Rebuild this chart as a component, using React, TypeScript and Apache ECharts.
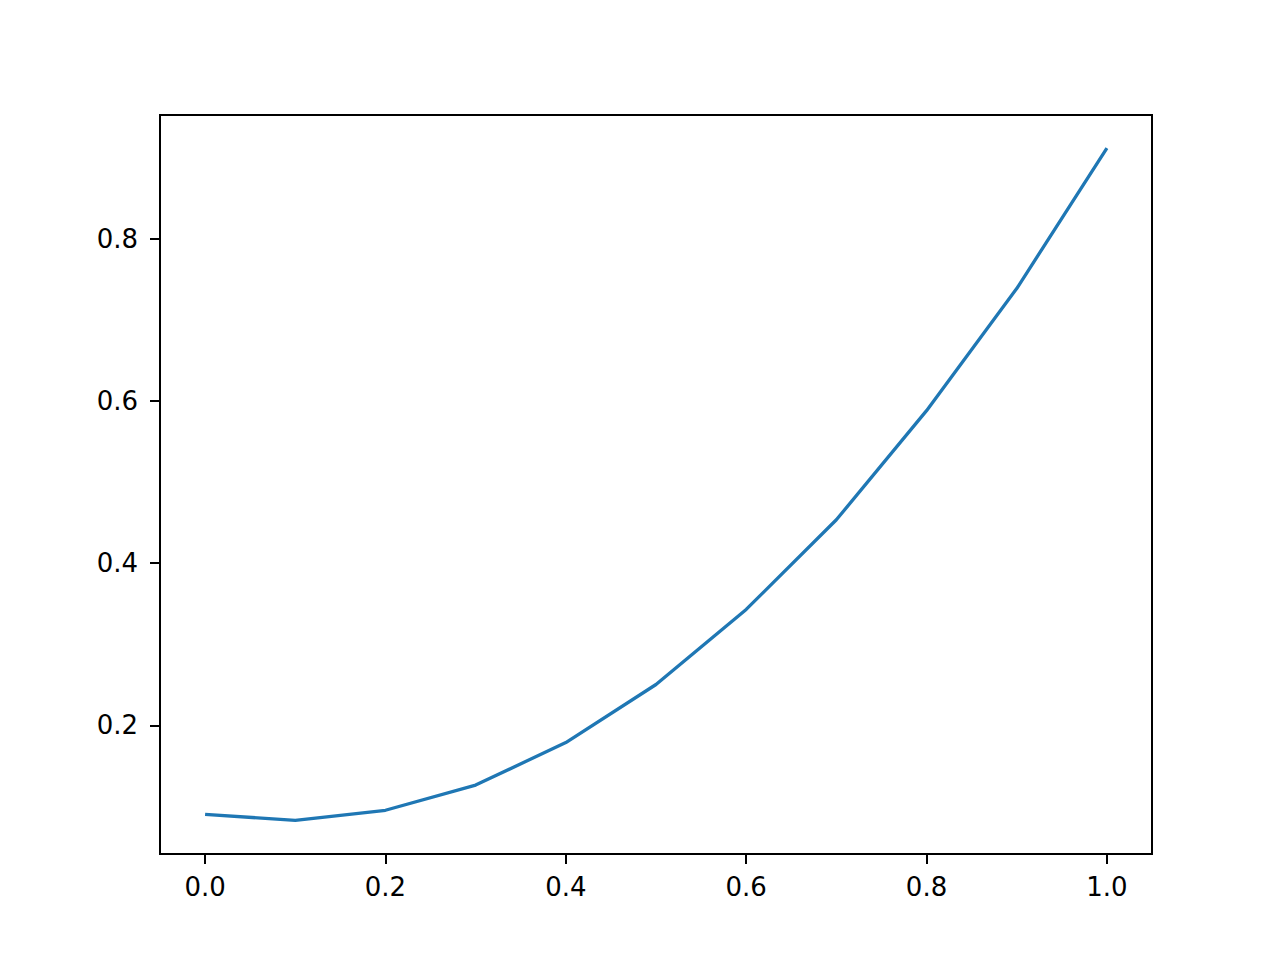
import React, { useRef, useEffect } from 'react'
import * as echarts from 'echarts'

// values
const X_VALUES = [0.0, 0.1, 0.2, 0.3, 0.4, 0.5, 0.6, 0.7, 0.8, 0.9, 1.0]
const Y_VALUES = [0.0905, 0.083, 0.0955, 0.1265, 0.179, 0.2505, 0.343, 0.4535, 0.588, 0.7385, 0.9115]

const X_TICKS = [0.0, 0.2, 0.4, 0.6, 0.8, 1.0]
const Y_TICKS = [0.2, 0.4, 0.6, 0.8]

const X_MIN = -0.05
const X_MAX = 1.05
const Y_MIN = 0.0416
const Y_MAX = 0.9524

const FONT = 'DejaVu Sans'

export default function App() {
  const chartRef = useRef<HTMLDivElement>(null)

  useEffect(() => {
    if (!chartRef.current) return
    const chart = echarts.init(chartRef.current, null, { renderer: 'svg' })

    const axisCommon = {
      type: 'value' as const,
      axisLine: { show: true, onZero: false, lineStyle: { color: '#000', width: 2 } },
      splitLine: { show: false },
      axisTick: {
        show: true,
        inside: false,
        length: 10,
        lineStyle: { color: '#000', width: 2 },
      },
    }

    chart.setOption({
      animation: false,
      backgroundColor: '#ffffff',
      grid: {
        left: 160,
        top: 115,
        width: 992,
        height: 739,
        show: true,
        borderColor: '#000',
        borderWidth: 2,
        backgroundColor: 'transparent',
      },
      xAxis: {
        ...axisCommon,
        min: X_MIN,
        max: X_MAX,
        axisTick: { ...axisCommon.axisTick, customValues: X_TICKS },
        axisLabel: {
          customValues: X_TICKS,
          margin: 20,
          color: '#000',
          fontFamily: FONT,
          fontSize: 26,
          formatter: (v: number) => v.toFixed(1),
        },
      },
      yAxis: {
        ...axisCommon,
        min: Y_MIN,
        max: Y_MAX,
        axisTick: { ...axisCommon.axisTick, customValues: Y_TICKS },
        axisLabel: {
          customValues: Y_TICKS,
          margin: 22,
          color: '#000',
          fontFamily: FONT,
          fontSize: 26,
          formatter: (v: number) => v.toFixed(1),
        },
      },
      series: [
        {
          type: 'line',
          data: X_VALUES.map((x, i) => [x, Y_VALUES[i]]),
          showSymbol: false,
          lineStyle: { color: '#1f77b4', width: 3.3 },
          itemStyle: { color: '#1f77b4' },
        },
      ],
    })

    return () => {
      chart.dispose()
    }
  }, [])

  return (
    <div
      ref={chartRef}
      style={{ position: 'absolute', left: 0, top: 0, width: 1280, height: 960 }}
    />
  )
}
